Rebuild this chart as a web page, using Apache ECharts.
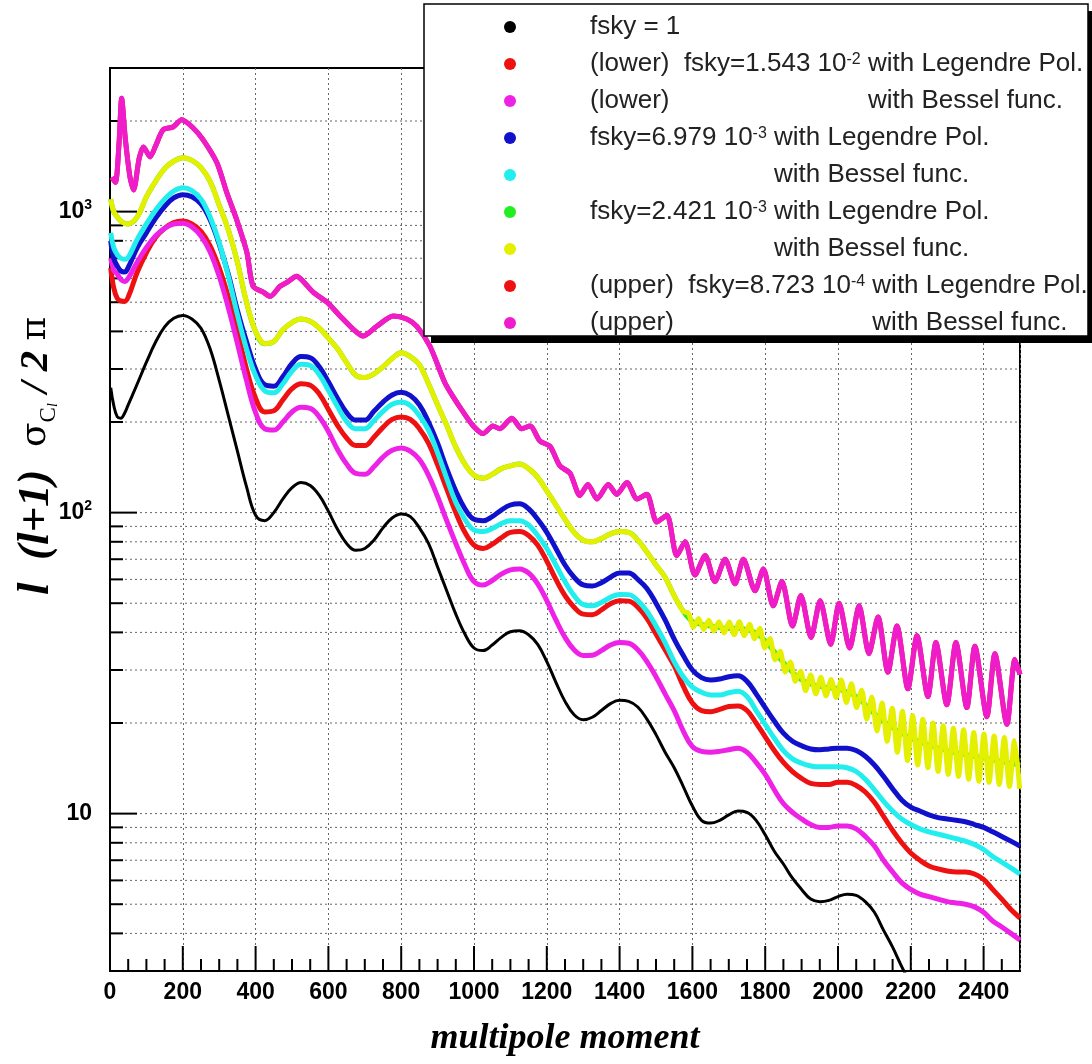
<!DOCTYPE html>
<html>
<head>
<meta charset="utf-8">
<script src="https://cdn.jsdelivr.net/npm/echarts/dist/echarts.min.js"></script>
<style>html,body{margin:0;padding:0;background:#fff}#main{width:1092px;height:1064px}</style>
</head>
<body>
<div id="main"></div>
<script>
// multipole moments shared by the smooth curves
var ells = [
  2, 10, 20, 30, 40, 50, 75,
  100, 125, 150, 175,
  200, 225, 250, 275,
  300, 325, 350, 375,
  400, 425, 450, 475,
  500, 525, 550, 575,
  600, 625, 650, 675,
  700, 725, 750, 775,
  800, 825, 850, 875,
  900, 925, 950, 975,
  1000, 1025, 1050, 1075,
  1100, 1125, 1150, 1175,
  1200, 1225, 1250, 1275,
  1300, 1325, 1350, 1375,
  1400, 1425, 1450, 1475,
  1500, 1525, 1550, 1575,
  1600, 1625, 1650, 1675,
  1700, 1725, 1750, 1775,
  1800, 1825, 1850, 1875,
  1900, 1925, 1950, 1975,
  2000, 2025, 2050, 2075,
  2100, 2125, 2150, 2175,
  2200, 2225, 2250, 2275,
  2300, 2325, 2350, 2375,
  2400, 2425, 2450, 2475,
  2500
];

// fsky = 1
var fullSky = [
  260, 228, 208, 206, 214, 228, 268,
  316, 368, 414, 442,
  452, 440, 410, 350,
  275, 210, 160, 122,
  98, 94, 100, 111,
  121, 126, 123, 114,
  101, 88, 79, 75,
  76, 81, 89, 96,
  99, 97, 89, 79,
  66, 55, 46, 39.5,
  35.5, 34.8, 36.3, 38.5,
  40.2, 40.5, 39.3, 36.5,
  32, 27.3, 23.6, 21.3,
  20.5, 20.9, 22, 23.2,
  23.8, 23.6, 22.6, 20.6,
  18.3, 16, 14.2, 12.3,
  10.6, 9.5, 9.3, 9.5,
  9.9, 10.2, 10.1, 9.5,
  8.5, 7.5, 6.8, 6.1,
  5.6, 5.2, 5.1, 5.15,
  5.3, 5.4, 5.35, 5.1,
  4.7, 4.1, 3.6, 3.1,
  2.7, 2.3, null, null,
  null, null, null, null,
  null, null, null, null,
  null
];

// fsky = 1.543e-2, Legendre
var lowerLegendre = [
  650, 560, 515, 505, 503, 520, 630,
  730, 820, 880, 920,
  930, 910, 860, 770,
  650, 520, 400, 300,
  240, 216, 218, 237,
  258, 268, 265, 248,
  220, 195, 177, 167,
  167, 178, 192, 204,
  208, 204, 190, 170,
  144, 120, 100, 86,
  78, 76, 78.5, 82.5,
  86, 86.5, 84, 78,
  69, 60, 53, 48.5,
  46, 45.8, 47.5, 49.8,
  51, 50.8, 48.5, 44.5,
  39.5, 35, 31, 26.5,
  23.3, 22, 21.8, 22.2,
  22.7, 22.8, 22, 20,
  18, 16.2, 14.8, 13.8,
  13.1, 12.6, 12.5, 12.5,
  12.7, 12.7, 12.4, 11.8,
  10.9, 9.8, 8.8, 8.0,
  7.4, 7.0, 6.7, 6.55,
  6.45, 6.4, 6.4, 6.3,
  6.05, 5.6, 5.2, 4.8,
  4.5
];

// fsky = 1.543e-2, Bessel
var lowerBessel = [
  700, 640, 620, 595, 586, 600, 680,
  760, 830, 880, 910,
  915, 890, 830, 735,
  610, 480, 365, 275,
  215, 190, 188, 200,
  216, 224, 222, 208,
  186, 162, 145, 135,
  134, 142, 153, 161,
  164, 160, 150, 133,
  113, 94, 79, 67,
  59, 57.5, 59.5, 62.5,
  64.5, 65, 63, 58,
  51, 44, 38.5, 35,
  33.5, 33.6, 34.8, 36.3,
  37, 36.8, 35, 32,
  28.5, 25, 22, 18.8,
  16.7, 16.1, 16, 16.1,
  16.3, 16.5, 16, 14.8,
  13.5, 12, 10.8, 10.1,
  9.6, 9.2, 9.0, 9.0,
  9.1, 9.1, 8.9, 8.4,
  7.8, 7.0, 6.4, 5.9,
  5.6, 5.4, 5.3, 5.2,
  5.1, 5.05, 5.0, 4.9,
  4.7, 4.4, 4.2, 4.0,
  3.8
];

// fsky = 6.979e-3, Legendre
var midLegendre = [
  800, 700, 660, 635, 630, 652, 760,
  850, 950, 1040, 1110,
  1138, 1120, 1060, 940,
  780, 620, 470, 370,
  300, 266, 263, 283,
  313, 330, 327, 305,
  272, 240, 215, 203,
  203, 217, 233, 246,
  251, 245, 228, 200,
  170, 140, 118, 103,
  95, 94, 97, 102,
  106, 107, 103, 95,
  86, 76, 67, 61,
  57.5, 57, 58.5, 61,
  63, 63, 60, 56,
  50, 44, 38, 33.5,
  30, 28.3, 27.8, 28,
  28.5, 28.7, 27.5, 25,
  22.5, 20.3, 18.5, 17.4,
  16.8, 16.4, 16.3, 16.4,
  16.5, 16.5, 16.2, 15.5,
  14.5, 13.3, 12.1, 11.1,
  10.5, 10.2, 9.9, 9.7,
  9.6, 9.5, 9.4, 9.2,
  9.0, 8.7, 8.4, 8.1,
  7.8
];

// fsky = 6.979e-3, Bessel
var midBessel = [
  850, 760, 720, 700, 695, 704, 810,
  910, 1010, 1100, 1170,
  1200, 1175, 1100, 960,
  790, 610, 455, 350,
  285, 254, 250, 268,
  295, 311, 308, 287,
  255, 225, 201, 190,
  190, 202, 217, 229,
  233, 227, 210, 188,
  158, 130, 108, 95,
  87.5, 86.5, 88.5, 92,
  94, 94, 91, 84,
  76, 67, 59, 53,
  49.5, 49, 50.3, 52.3,
  53.5, 53.4, 51, 47,
  42, 37, 32, 28.5,
  26.3, 25.3, 24.8, 24.8,
  25.2, 25.5, 24.5, 22,
  19.8, 17.8, 16.2, 15.2,
  14.7, 14.4, 14.3, 14.3,
  14.3, 14.2, 13.8, 13.0,
  12.0, 11.0, 10.2, 9.6,
  9.2, 8.9, 8.7, 8.55,
  8.4, 8.25, 8.1, 7.9,
  7.6, 7.2, 6.9, 6.6,
  6.3
];

// fsky = 2.421e-3, Legendre
var smallLegendre = [
  1100, 1000, 960, 930, 915, 910, 960,
  1120, 1260, 1390, 1470,
  1510, 1480, 1400, 1260,
  1050, 870, 680, 500,
  400, 364, 370, 405,
  428, 440, 432, 410,
  380, 350, 315, 286,
  281, 289, 305, 325,
  340, 330, 310, 268,
  228, 195, 165, 145,
  133, 130, 134, 140,
  143, 145, 140, 131,
  118, 106, 95, 86,
  81, 80, 82, 85,
  86.5, 86, 81, 74,
  67, 61, 53, 47,
  43.5, 42.5, 42, 41.5,
  41.2, 41.3, 40.8, 39.8,
  37.5, 34.5, 31.8, 29.5,
  27.8, 27, 26.5, 26.2,
  26, 25.3, 24.5, 23,
  21.5, 20.3, 19.3, 18.5,
  17.8, 17.3, 16.9, 16.5,
  16.2, 15.9, 15.7, 15.5,
  15.3, 15.1, 14.9, 14.7,
  14.5
];

// fsky = 2.421e-3, Bessel: follows the Legendre curve up to l = 1575, then ripples
var smallBesselEllsHigh = [
  1589, 1603, 1617, 1631, 1645, 1659, 1673, 1687, 1701, 1715,
  1729, 1743, 1757, 1771, 1785, 1799, 1813, 1827, 1841, 1855,
  1869, 1883, 1897, 1911, 1925, 1939, 1953, 1967, 1981, 1995,
  2009, 2023, 2037, 2051, 2065, 2079, 2093, 2107, 2121, 2135,
  2149, 2163, 2177, 2191, 2205, 2219, 2233, 2247, 2261, 2275,
  2289, 2303, 2317, 2331, 2345, 2359, 2373, 2387, 2401, 2415,
  2429, 2443, 2457, 2471, 2485, 2499
];
var smallBesselHigh = [
  46.3, 41.6, 44.5, 40.9, 43.9, 40.4, 43.4, 39.8, 43.3, 39.3,
  43.4, 39, 42.6, 38.1, 41.3, 35.5, 38.2, 32.4, 34.6, 29.5,
  31.9, 27.5, 29.7, 25.6, 28.9, 25, 28.4, 24.6, 27.9, 24.3,
  27.8, 23.4, 27, 22.5, 25.7, 20.6, 24.4, 18.8, 23.3, 17.4,
  22.4, 16, 21.9, 15, 21.2, 14.5, 20.6, 14.2, 20, 13.8,
  19.6, 13.5, 19.2, 13.3, 19, 13, 18.6, 12.8, 18.4, 12.7,
  18.1, 12.5, 17.9, 12.3, 17.5, 12.1
];
var smallBesselElls = ells.slice(0, 67).concat(smallBesselEllsHigh);
var smallBessel = smallLegendre.slice(0, 67).concat(smallBesselHigh);

// fsky = 8.723e-4 (upper pair)
var upperElls = [
  5, 15, 25, 32, 42, 55, 65, 80, 92, 110,
  125, 146, 173, 197, 228, 256, 294, 321, 348, 376,
  393, 421, 440, 467, 486, 513, 531, 558, 596, 632,
  668, 695, 733, 778, 815, 843, 879, 920, 945, 970,
  998, 1025, 1052, 1071, 1104, 1131, 1154, 1181, 1209, 1236,
  1264, 1291, 1313, 1338, 1369, 1392, 1420, 1448, 1475, 1502,
  1530, 1557, 1580, 1607, 1635, 1662, 1690, 1717, 1740, 1772,
  1795, 1822, 1846, 1875, 1898, 1926, 1951, 1980, 2003, 2032,
  2058, 2085, 2110, 2137, 2162, 2192, 2217, 2247, 2269, 2299,
  2324, 2354, 2376, 2409, 2431, 2464, 2486, 2500
];
var upperBessel = [
  1300, 1250, 1700, 2380, 1750, 1300, 1180, 1500, 1640, 1520,
  1650, 1870, 1910, 2020, 1900, 1730, 1450, 1155, 940, 732,
  565, 540, 523, 565, 582, 610, 586, 540, 500, 450,
  407, 386, 416, 450, 440, 416, 357, 270, 240, 216,
  194, 183, 194, 190, 206, 190, 194, 173, 166, 143,
  135, 114, 124, 111, 124, 115, 126, 111, 115, 93,
  98, 72, 80, 62, 72, 59, 70, 58, 70, 55,
  65, 49, 59, 42, 53, 38.5, 51, 36.5, 50, 35.5,
  49, 34, 45, 29.5, 42, 26, 39, 24.5, 37, 23,
  37, 22.5, 36, 21, 34, 19.8, 32.5, 29
];
// the Legendre curve of this pair lies entirely under the Bessel one
var upperLegendre = upperBessel.slice();

// axis ticks and labels
var yMajorTicks = [10, 100, 1000];
var yTickExps = ['', '2', '3'];
var yMinorTicks = [4, 5, 6, 7, 8, 9, 20, 30, 40, 50, 60, 70, 80, 90,
  200, 300, 400, 500, 600, 700, 800, 900, 2000];
var xTickLabels = [0, 200, 400, 600, 800, 1000, 1200, 1400, 1600, 1800, 2000, 2200, 2400];

var names = [
  'fsky = 1',
  '(lower) fsky=1.543e-2 with Legendre Pol.',
  '(lower) fsky=1.543e-2 with Bessel func.',
  'fsky=6.979e-3 with Legendre Pol.',
  'fsky=6.979e-3 with Bessel func.',
  'fsky=2.421e-3 with Legendre Pol.',
  'fsky=2.421e-3 with Bessel func.',
  '(upper) fsky=8.723e-4 with Legendre Pol.',
  '(upper) fsky=8.723e-4 with Bessel func.'
];
var colors = ['#000000', '#ee1111', '#ee22e6', '#1111cc', '#22eeee', '#22ee22', '#e4f000', '#ee1111', '#ef1ccc'];

var FS = 26, SS = 16;
var measure = document.createElement('canvas').getContext('2d');
function tw(s, px) { measure.font = px + 'px "Liberation Sans"'; return measure.measureText(s).width; }
var w1 = tw('(lower)  fsky=1.543 10', FS) + tw('-2', SS) + tw(' ', FS);
var w2 = tw('fsky=6.979 10', FS) + tw('-3', SS) + tw(' ', FS);
var w3 = tw('(upper)  fsky=8.723 10', FS) + tw('-4', SS) + tw(' ', FS);
var legendText = [
  '{g|}fsky = 1',
  '{g|}(lower)  fsky=1.543 10{s|-2} with Legendre Pol.',
  '{g|}{w1|(lower)}with Bessel func.',
  '{g|}fsky=6.979 10{s|-3} with Legendre Pol.',
  '{g|}{w2|}with Bessel func.',
  '{g|}fsky=2.421 10{s|-3} with Legendre Pol.',
  '{g|}{w2|}with Bessel func.',
  '{g|}(upper)  fsky=8.723 10{s|-4} with Legendre Pol.',
  '{g|}{w3|(upper)}with Bessel func.'
];

function pairs(xs, ys) { return xs.map(function (x, i) { return [x, ys[i]]; }); }

var curves = [
  [ells, fullSky], [ells, lowerLegendre], [ells, lowerBessel],
  [ells, midLegendre], [ells, midBessel], [ells, smallLegendre],
  [smallBesselElls, smallBessel], [upperElls, upperLegendre], [upperElls, upperBessel]
];

var series = curves.map(function (c, i) {
  return {
    name: names[i],
    type: 'line',
    data: pairs(c[0], c[1]),
    showSymbol: false,
    smooth: (i >= 6) ? 0.25 : 0.4,
    color: colors[i],
    lineStyle: {width: i === 0 ? 3 : 5, color: colors[i]},
    z: 2 + i * 0.01
  };
});

// horizontal dotted grid and left ticks (log positions)
var yGridData = yMinorTicks.map(function (v) { return [0, v, 13]; })
  .concat(yMajorTicks.map(function (v) { return [0, v, 27]; }));
series.push({
  type: 'custom',
  silent: true,
  z: 1,
  data: yGridData,
  renderItem: function (params, api) {
    var v = api.value(1), len = api.value(2);
    var a = api.coord([0, v]), b = api.coord([2500, v]);
    return {type: 'group', children: [
      {type: 'line', shape: {x1: a[0], y1: a[1], x2: b[0], y2: b[1]},
        style: {stroke: '#666', lineWidth: 1, lineDash: [2, 3]}},
      {type: 'line', shape: {x1: a[0], y1: a[1], x2: a[0] + len, y2: a[1]},
        style: {stroke: '#000', lineWidth: 2}}
    ]};
  }
});

// bottom ticks: long every 200, short every 50
var xTickData = [];
for (var l = 50; l < 2500; l += 50) xTickData.push([l, 3, l % 200 === 0 ? 25 : 12]);
series.push({
  type: 'custom',
  silent: true,
  z: 3,
  data: xTickData,
  renderItem: function (params, api) {
    var p = api.coord([api.value(0), 3]);
    return {type: 'line', shape: {x1: p[0], y1: p[1], x2: p[0], y2: p[1] - api.value(2)},
      style: {stroke: '#000', lineWidth: 2}};
  }
});

var chart = echarts.init(document.getElementById('main'));
chart.setOption({
  animation: false,
  backgroundColor: '#fff',
  grid: {left: 110, right: 72, top: 68, bottom: 93, show: true, borderColor: '#000', borderWidth: 2},
  xAxis: {
    type: 'value', min: 0, max: 2500, interval: 200,
    axisLine: {lineStyle: {color: '#000', width: 2}},
    axisTick: {show: false},
    axisLabel: {
      color: '#000', fontSize: 23, fontWeight: 'bold', fontFamily: 'Liberation Sans', margin: 10,
      showMaxLabel: false,
      formatter: function (v) { return xTickLabels.indexOf(v) >= 0 ? String(v) : ''; }
    },
    splitLine: {show: true, lineStyle: {color: '#666', width: 1, type: [2, 3]}},
    name: 'multipole moment', nameLocation: 'middle', nameGap: 50,
    nameTextStyle: {fontFamily: 'Liberation Serif', fontStyle: 'italic', fontWeight: 'bold', fontSize: 36, color: '#000'}
  },
  yAxis: {
    type: 'log', logBase: 10, min: 3, max: 3000,
    axisLine: {show: true, lineStyle: {color: '#000', width: 2}},
    axisTick: {show: false},
    splitLine: {show: false},
    axisLabel: {
      margin: 18, showMinLabel: false, showMaxLabel: false,
      formatter: function (v) {
        var e = Math.log10(v), r = Math.round(e);
        if (Math.abs(e - r) > 1e-6) return '';
        var i = yMajorTicks.indexOf(Math.pow(10, r));
        if (i < 0) return '';
        return '{n|10}' + (yTickExps[i] ? '{s|' + yTickExps[i] + '}' : '');
      },
      rich: {
        n: {fontSize: 23, fontWeight: 'bold', fontFamily: 'Liberation Sans', color: '#000', lineHeight: 26},
        s: {fontSize: 14, fontWeight: 'bold', fontFamily: 'Liberation Sans', color: '#000', lineHeight: 14, verticalAlign: 'top'}
      }
    }
  },
  legend: {
    data: names,
    orient: 'vertical', left: 499, top: 9, z: 10,
    icon: 'circle', itemWidth: 12, itemHeight: 12, itemGap: 11,
    selectedMode: false,
    formatter: function (name) { return legendText[names.indexOf(name)]; },
    textStyle: {
      fontFamily: 'Liberation Sans', fontSize: FS, color: '#222', lineHeight: 25,
      rich: {
        g: {width: 69},
        s: {fontSize: SS, lineHeight: 15, verticalAlign: 'top', fontFamily: 'Liberation Sans', color: '#222'},
        w1: {width: w1, fontSize: FS, fontFamily: 'Liberation Sans', color: '#222'},
        w2: {width: w2},
        w3: {width: w3, fontSize: FS, fontFamily: 'Liberation Sans', color: '#222'}
      }
    }
  },
  graphic: [
    {type: 'rect', z: 4, shape: {x: 431, y: 11, width: 670, height: 332}, style: {fill: '#000'}},
    {type: 'rect', z: 5, shape: {x: 424, y: 4, width: 664, height: 332}, style: {fill: '#fff', stroke: '#000', lineWidth: 1.5}},
    {
      type: 'text', z: 6, x: 36, y: 456, rotation: Math.PI / 2,
      style: {
        text: '{big|l  (l+1)  }{gr|σ}{sub|C}{ss|l}{it| / 2 }{gr|π}',
        align: 'center', verticalAlign: 'middle', fill: '#000',
        rich: {
          big: {fontFamily: 'Liberation Serif', fontStyle: 'italic', fontWeight: 'bold', fontSize: 45, lineHeight: 48},
          it: {fontFamily: 'Liberation Serif', fontStyle: 'italic', fontWeight: 'bold', fontSize: 41, lineHeight: 48},
          gr: {fontFamily: 'DejaVu Serif', fontSize: 36, lineHeight: 48},
          sub: {fontFamily: 'Liberation Serif', fontSize: 23, lineHeight: 24, verticalAlign: 'bottom'},
          ss: {fontFamily: 'Liberation Serif', fontStyle: 'italic', fontSize: 14, lineHeight: 16, verticalAlign: 'bottom'}
        }
      }
    }
  ],
  series: series
});
</script>
</body>
</html>
